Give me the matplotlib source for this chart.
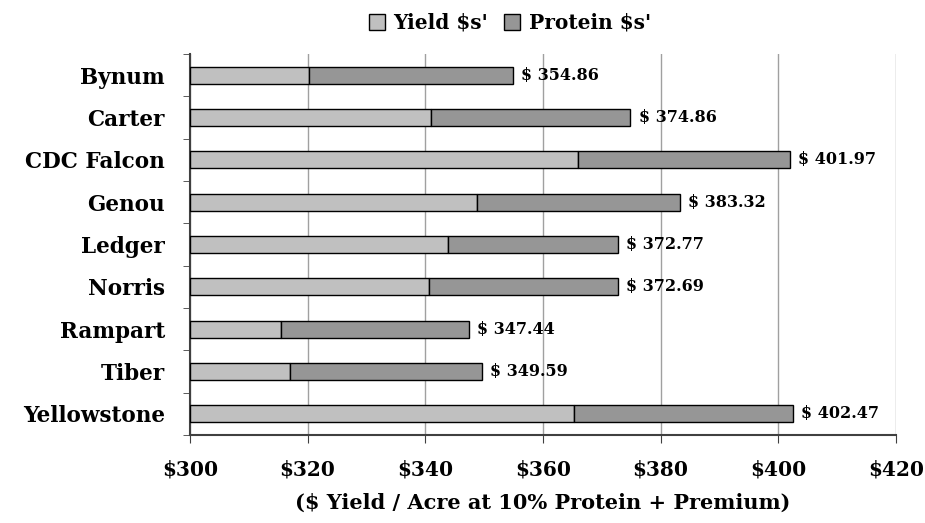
import matplotlib.pyplot as plt
import numpy as np

# varieties, top to bottom
varieties = ['Bynum', 'Carter', 'CDC Falcon', 'Genou', 'Ledger', 'Norris',
             'Rampart', 'Tiber', 'Yellowstone']
yield_val = [320.3, 340.9, 365.9, 348.7, 343.8, 340.7, 315.4, 317.0, 365.2]
total_val = [354.86, 374.86, 401.97, 383.32, 372.77, 372.69, 347.44, 349.59, 402.47]
xticks = [300, 320, 340, 360, 380, 400, 420]

plt.rcParams['font.family'] = ['DejaVu Serif']
plt.rcParams['font.weight'] = 'bold'

fig = plt.figure(figsize=(9.25, 5.23), dpi=100)
ax = fig.add_axes([190 / 925, 1 - 435 / 523, 706 / 925, 381 / 523])

y = np.arange(len(varieties))
base = 300
yv = np.array(yield_val) - base
pv = np.array(total_val) - np.array(yield_val)

ax.barh(y, yv, left=base, height=0.4, color='#c0c0c0', edgecolor='black',
        linewidth=1, label="Yield $s'", zorder=3)
ax.barh(y, pv, left=yield_val, height=0.4, color='#969696', edgecolor='black',
        linewidth=1, label="Protein $s'", zorder=3)

for i, t in enumerate(total_val):
    ax.text(t + 1.4, i, f'$ {t:.2f}', va='center', ha='left', fontsize=11.5,
            fontweight='bold', zorder=4)

ax.set_xlim(300, 420)
ax.set_ylim(len(varieties) - 0.5, -0.5)
ax.set_xticks(xticks)
ax.set_xticklabels([f'${v}' for v in xticks], fontsize=14.5, fontweight='bold')
ax.set_yticks(y)
ax.set_yticklabels(varieties, fontsize=15.5, fontweight='bold')
ax.set_yticks(np.arange(len(varieties) + 1) - 0.5, minor=True)
ax.tick_params(axis='y', which='major', length=0, pad=18)
ax.tick_params(axis='y', which='minor', length=5, color='#404040')
ax.tick_params(axis='x', length=6, color='#404040', pad=12)

ax.grid(axis='x', color='#a0a0a0', linewidth=1, zorder=0)
for s in ['top', 'right']:
    ax.spines[s].set_visible(False)
for s in ['left', 'bottom']:
    ax.spines[s].set_color('#404040')
    ax.spines[s].set_linewidth(1.5)

ax.set_xlabel('($ Yield / Acre at 10% Protein + Premium)', fontsize=15,
              fontweight='bold', labelpad=9)

fig.legend(loc='upper center', bbox_to_anchor=(510 / 925, 1.01), ncol=2,
           frameon=False, handlelength=0.8, handleheight=0.8,
           handletextpad=0.4, columnspacing=0.8, prop={'weight': 'bold', 'size': 14.5})

fig.savefig('out.png', dpi=100)
